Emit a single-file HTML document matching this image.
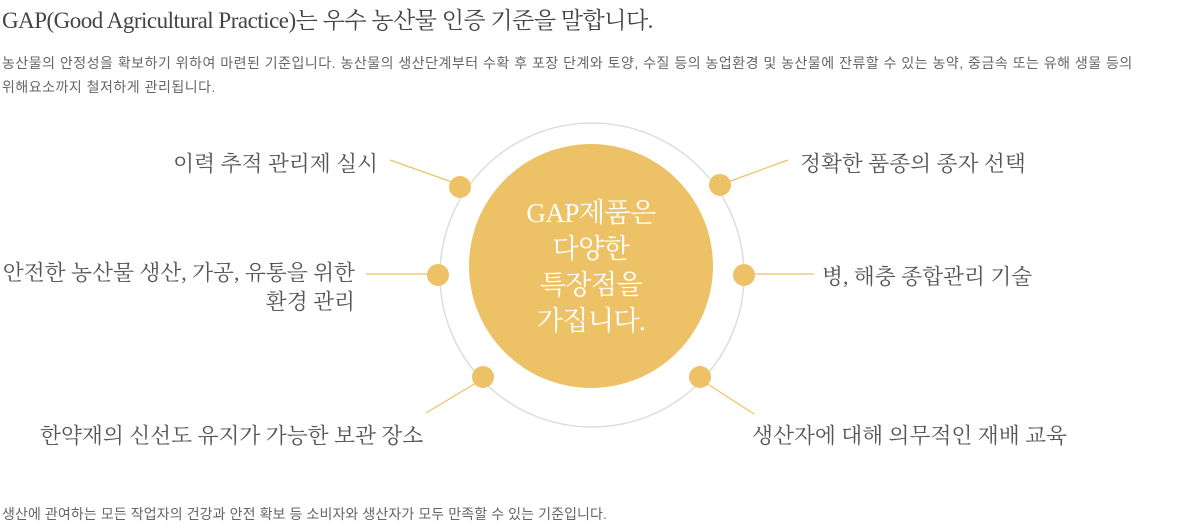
<!DOCTYPE html>
<html><head><meta charset="utf-8"><style>
body{margin:0;width:1198px;height:531px;background:#fff;position:relative;overflow:hidden;font-family:"Liberation Serif","Noto Serif CJK SC",serif;color:#444}
.t{position:absolute;white-space:nowrap}
.s{font-family:"Liberation Sans","Noto Sans CJK KR",sans-serif;font-size:14px;letter-spacing:0.5px;color:#666}
.l{font-size:21.7px;color:#555;font-family:"Liberation Serif","Noto Serif CJK SC",serif}
</style></head><body>
<div class="t" style="left:2px;top:2px;font-size:23px;color:#444;letter-spacing:-0.5px">GAP(Good Agricultural Practice)는 우수 농산물 인증 기준을 말합니다.</div>
<div class="t s" style="left:2px;top:53px">농산물의 안정성을 확보하기 위하여 마련된 기준입니다. 농산물의 생산단계부터 수확 후 포장 단계와 토양, 수질 등의 농업환경 및 농산물에 잔류할 수 있는 농약, 중금속 또는 유해 생물 등의</div>
<div class="t s" style="left:2px;top:77px">위해요소까지 철저하게 관리됩니다.</div>
<svg style="position:absolute;left:0;top:0" width="1198" height="531">
<circle cx="592" cy="275" r="152" fill="none" stroke="#ddd" stroke-width="1.5"/>
<circle cx="591" cy="266" r="122" fill="#edc266"/>
<g stroke="#edc266" stroke-width="1.2">
<line x1="390" y1="160" x2="452" y2="182"/>
<line x1="788" y1="160" x2="728" y2="182"/>
<line x1="366" y1="274" x2="430" y2="274"/>
<line x1="752" y1="274" x2="814" y2="274"/>
<line x1="426" y1="413" x2="476" y2="383"/>
<line x1="754" y1="414" x2="706" y2="383"/>
</g>
<g fill="#edc266">
<circle cx="460" cy="187" r="11"/><circle cx="720" cy="185" r="11"/>
<circle cx="438" cy="275" r="11"/><circle cx="744" cy="275" r="11"/>
<circle cx="483" cy="377" r="11"/><circle cx="700" cy="377" r="11"/>
</g>
</svg>
<div class="t" style="left:471px;top:195px;width:240px;text-align:center;color:#fff;font-size:27px;line-height:36px;white-space:normal;letter-spacing:-0.5px">GAP제품은<br>다양한<br>특장점을<br>가집니다.</div>
<div class="t l" style="right:820px;top:147px">이력 추적 관리제 실시</div>
<div class="t l" style="left:800px;top:147px">정확한 품종의 종자 선택</div>
<div class="t l" style="right:843px;top:259px;text-align:right;line-height:29px">안전한 농산물 생산, 가공, 유통을 위한<br>환경 관리</div>
<div class="t l" style="left:822px;top:260px">병, 해충 종합관리 기술</div>
<div class="t l" style="left:40px;top:419px">한약재의 신선도 유지가 가능한 보관 장소</div>
<div class="t l" style="left:752px;top:419px">생산자에 대해 의무적인 재배 교육</div>
<div class="t s" style="left:2px;top:504px;letter-spacing:0.1px">생산에 관여하는 모든 작업자의 건강과 안전 확보 등 소비자와 생산자가 모두 만족할 수 있는 기준입니다.</div>
</body></html>
